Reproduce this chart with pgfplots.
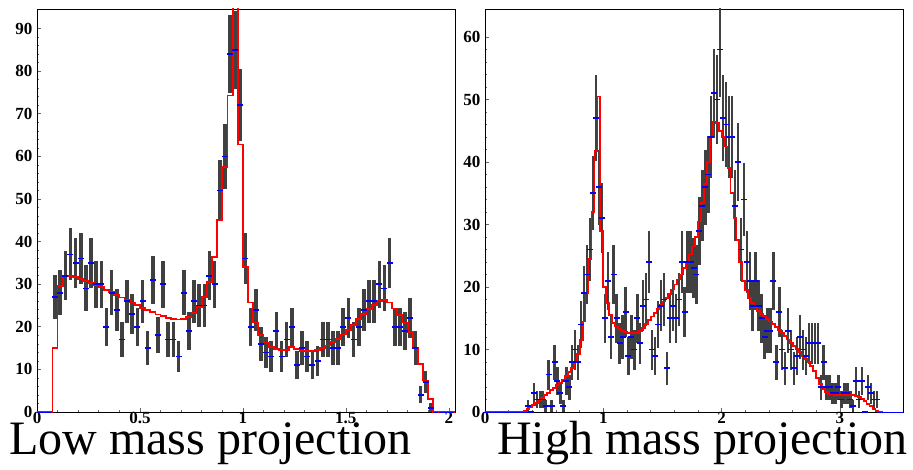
\documentclass[border=0pt]{standalone}
\usepackage{fontspec}
\setmainfont{Liberation Serif}
\usepackage{pgfplots}
\usepackage{pgfplotstable}
\pgfplotsset{compat=1.18}

\pgfplotstableread{
x y e
0.0875 27 5.2
0.1125 28 5.3
0.1375 32 5.7
0.1625 37 6.1
0.1875 35 5.9
0.2125 36 6.0
0.2375 29 5.4
0.2625 35 5.9
0.2875 30 5.5
0.3125 30 5.5
0.3375 20 4.5
0.3625 28 5.3
0.3875 24 4.9
0.4125 17 4.1
0.4375 26 5.1
0.4625 23 4.8
0.4875 20 4.5
0.5125 26 5.1
0.5375 15 3.9
0.5625 31 5.6
0.5875 18 4.2
0.6125 30 5.5
0.6375 17 4.1
0.6625 17 4.1
0.6875 13 3.6
0.7125 28 5.3
0.7375 19 4.4
0.7625 26 5.1
0.7875 25 5.0
0.8125 25 5.0
0.8375 32 5.7
0.8625 30 5.5
0.8875 52 7.2
0.9125 60 7.7
0.9375 84 9.2
0.9625 85 9.2
0.9875 72 8.5
1.0125 36 6.0
1.0375 20 4.5
1.0625 24 4.9
1.0875 16 4.0
1.1125 14 3.7
1.1375 13 3.6
1.1625 19 4.4
1.1875 13 3.6
1.2125 17 4.1
1.2375 20 4.5
1.2625 11 3.3
1.2875 15 3.9
1.3125 13 3.6
1.3375 11 3.3
1.3625 12 3.5
1.3875 17 4.1
1.4125 17 4.1
1.4375 15 3.9
1.4625 15 3.9
1.4875 20 4.5
1.5125 22 4.7
1.5375 17 4.1
1.5625 20 4.5
1.5875 24 4.9
1.6125 26 5.1
1.6375 26 5.1
1.6625 30 5.5
1.6875 29 5.4
1.7125 35 5.9
1.7375 20 4.5
1.7625 20 4.5
1.7875 19 4.4
1.8125 22 4.7
1.8375 15 3.9
1.8625 4 2.0
1.8875 7 2.6
1.9125 1 1.0
}\lowdata

\pgfplotstableread{
x y
0.0125 0
0.0375 0
0.0625 0
1.9375 0
1.9625 0
1.9875 0
2.0125 0
}\lowzero

\pgfplotstableread{
x y
0.0000 0
0.0375 0
0.0625 0
0.0875 15
0.1125 29.5
0.1375 32
0.1625 32
0.1875 31.7
0.2125 31.3
0.2375 30.8
0.2625 30.3
0.2875 29.8
0.3125 29.3
0.3375 28.7
0.3625 28.1
0.3875 27.5
0.4125 26.9
0.4375 26.3
0.4625 25.7
0.4875 25.1
0.5125 24.5
0.5375 23.9
0.5625 23.4
0.5875 22.9
0.6125 22.5
0.6375 22.1
0.6625 21.8
0.6875 21.7
0.7125 21.8
0.7375 22.3
0.7625 23.2
0.7875 24.6
0.8125 27
0.8375 30.5
0.8625 36.3
0.8875 45
0.9125 57.5
0.9375 74.3
0.9625 120
0.9875 62.8
1.0125 34
1.0375 25.7
1.0625 21
1.0875 18
1.1125 16.3
1.1375 15.2
1.1625 14.7
1.1875 14.5
1.2125 14.6
1.2375 15.2
1.2625 14.7
1.2875 14.4
1.3125 14.3
1.3375 14.3
1.3625 14.5
1.3875 15
1.4125 15.6
1.4375 16.4
1.4625 17.2
1.4875 18.2
1.5125 19.3
1.5375 20.5
1.5625 21.8
1.5875 23
1.6125 24.2
1.6375 25.2
1.6625 26
1.6875 26.2
1.7125 25.7
1.7375 24.3
1.7625 22.7
1.7875 21
1.8125 18.8
1.8375 15
1.8625 11.3
1.8875 7.4
1.9125 3.1
1.9375 0
1.9625 0
2.0300 0
}\lowfit

\pgfplotstableread{
x y e
0.3625 1 1.0
0.3875 0 0
0.4125 3 1.7
0.4375 2 1.4
0.4625 2 1.4
0.4875 2 1.4
0.5125 1 1.0
0.5375 6 2.4
0.5625 1 1.0
0.5875 8 2.8
0.6125 5 2.2
0.6375 3 1.7
0.6625 1 1.0
0.6875 5 2.2
0.7125 4 2.0
0.7375 8 2.8
0.7625 10 3.2
0.7875 8 2.8
0.8125 14 3.7
0.8375 19 4.4
0.8625 22 4.7
0.8875 26 5.1
0.9125 35 5.9
0.9375 47 6.9
0.9625 36 6.0
0.9875 31 5.6
1.0125 15 3.9
1.0375 21 4.6
1.0625 12 3.5
1.0875 22 4.7
1.1125 15 3.9
1.1375 11 3.3
1.1625 12 3.5
1.1875 16 4.0
1.2125 9 3.0
1.2375 12 3.5
1.2625 10 3.2
1.2875 15 3.9
1.3125 11 3.3
1.3375 17 4.1
1.3625 18 4.2
1.3875 24 4.9
1.4125 10 3.2
1.4375 9 3.0
1.4625 14 3.7
1.4875 17 4.1
1.5125 18 4.2
1.5375 7 2.6
1.5625 15 3.9
1.5875 17 4.1
1.6125 15 3.9
1.6375 18 4.2
1.6625 24 4.9
1.6875 16 4.0
1.7125 24 4.9
1.7375 24 4.9
1.7625 23 4.8
1.7875 22 4.7
1.8125 29 5.4
1.8375 33 5.7
1.8625 36 6.0
1.8875 38 6.2
1.9125 44 6.6
1.9375 51 7.1
1.9625 50 7.1
1.9875 58 7.6
2.0125 47 6.9
2.0375 46 6.8
2.0625 44 6.6
2.0875 44 6.6
2.1125 33 5.7
2.1375 40 6.3
2.1625 26 5.1
2.1875 34 5.8
2.2125 24 4.9
2.2375 21 4.6
2.2625 17 4.1
2.2875 21 4.6
2.3125 17 4.1
2.3375 15 3.9
2.3625 12 3.5
2.3875 13 3.6
2.4125 13 3.6
2.4375 21 4.6
2.4625 8 2.8
2.4875 16 4.0
2.5125 10 3.2
2.5375 7 2.6
2.5625 13 3.6
2.5875 10 3.2
2.6125 7 2.6
2.6375 9 3.0
2.6625 12 3.5
2.6875 10 3.2
2.7125 9 3.0
2.7375 11 3.3
2.7625 11 3.3
2.7875 11 3.3
2.8125 11 3.3
2.8375 4 2.0
2.8625 8 2.8
2.8875 4 2.0
2.9125 4 2.0
2.9375 3 1.7
2.9625 3 1.7
2.9875 4 2.0
3.0125 2 1.4
3.0375 3 1.7
3.0625 3 1.7
3.0875 2 1.4
3.1125 1 1.0
3.1375 5 2.2
3.1625 2 1.4
3.1875 5 2.2
3.2125 0 0
3.2375 4 2.0
3.2625 3 1.7
3.2875 2 1.4
3.3125 2 1.4
}\highdata

\pgfplotstableread{
x y
0.0125 0
0.0375 0
0.0625 0
0.0875 0
0.1125 0
0.1375 0
0.1625 0
0.1875 0
0.2125 0
0.2375 0
0.2625 0
0.2875 0
0.3125 0
0.3375 0
3.3375 0
3.3625 0
3.3875 0
3.4125 0
3.4375 0
3.4625 0
3.4875 0
3.5125 0
}\highzero

\pgfplotstableread{
x y
0.0000 0
0.3125 0
0.3375 0.2
0.3625 0.5
0.3875 0.8
0.4125 1.1
0.4375 1.5
0.4625 1.9
0.4875 2.3
0.5125 2.7
0.5375 3.1
0.5625 3.5
0.5875 3.9
0.6125 4.3
0.6375 4.7
0.6625 5.2
0.6875 5.8
0.7125 6.4
0.7375 7.1
0.7625 8.0
0.7875 9.3
0.8125 11.5
0.8375 14.5
0.8625 19
0.8875 24.5
0.9125 32
0.9375 41.8
0.9625 50.5
0.9875 29
1.0125 20
1.0375 17.5
1.0625 15.5
1.0875 14.3
1.1125 13.7
1.1375 13.3
1.1625 13.0
1.1875 12.8
1.2125 12.7
1.2375 12.6
1.2625 12.6
1.2875 12.7
1.3125 13.0
1.3375 13.5
1.3625 14.1
1.3875 14.7
1.4125 15.3
1.4375 15.9
1.4625 16.5
1.4875 17.1
1.5125 17.7
1.5375 18.3
1.5625 18.9
1.5875 19.6
1.6125 20.4
1.6375 21.2
1.6625 22.0
1.6875 23.0
1.7125 24.0
1.7375 25.2
1.7625 26.5
1.7875 28.0
1.8125 30.5
1.8375 33.5
1.8625 36.5
1.8875 40
1.9125 44
1.9375 46.5
1.9625 46.3
1.9875 45
2.0125 44
2.0375 42.5
2.0625 39
2.0875 35
2.1125 31
2.1375 27.5
2.1625 24
2.1875 21
2.2125 19.5
2.2375 18.3
2.2625 17.5
2.2875 16.8
2.3125 16.2
2.3375 15.7
2.3625 15.3
2.3875 14.9
2.4125 14.5
2.4375 14.1
2.4625 13.6
2.4875 13.1
2.5125 12.6
2.5375 12.1
2.5625 11.6
2.5875 11.1
2.6125 10.6
2.6375 10.1
2.6625 9.6
2.6875 9.0
2.7125 8.5
2.7375 8.0
2.7625 7.4
2.7875 6.6
2.8125 5.5
2.8375 4.5
2.8625 3.7
2.8875 3.2
2.9125 2.9
2.9375 2.8
2.9625 2.7
2.9875 2.7
3.0125 2.7
3.0375 2.7
3.0625 2.7
3.0875 2.7
3.1125 2.7
3.1375 2.6
3.1625 2.4
3.1875 2.1
3.2125 1.7
3.2375 1.3
3.2625 0.9
3.2875 0.5
3.3125 0.2
3.3375 0
3.3625 0
}\highfit

\pgfplotsset{
  rootstyle/.style={
    width=418pt, height=403pt, scale only axis, anchor=south west,
    ymin=0, tick align=inside, xtick pos=bottom, ytick pos=left,
    major tick length=4pt, minor tick length=2pt,
    every tick/.style={black!60, line width=0.6pt},
    axis line style={black, line width=0.9pt},
    ticklabel style={font=\bfseries\fontsize{17}{17}\selectfont},
    /pgf/number format/assume math mode=true,
    minor x tick num=4, minor y tick num=4,
    yticklabel style={xshift=-1pt},
    xticklabel style={yshift=3pt},
  },
  datapts/.style={only marks, mark=-, mark size=3pt, color=blue,
    mark options={line width=1.7pt, solid},
    /pgfplots/error bars/y dir=both, /pgfplots/error bars/y explicit,
    /pgfplots/error bars/error mark=none,
    /pgfplots/error bars/error bar style={line width=#1, color=black!75}},
  datapts/.default=2.8pt,
  zeropts/.style={only marks, mark=-, mark size=2.5pt, color=blue, mark options={line width=1pt}},
  fitline/.style={const plot mark mid, color=red, line width=1.8pt, mark=none},
}

\begin{document}
\begin{tikzpicture}
\useasboundingbox (0,0) rectangle (913pt,469pt);
\begin{axis}[rootstyle, at={(37pt,57pt)},
  xmin=0, xmax=2.03, ymax=94.6,
  xtick={0,0.5,1,1.5,2}, xticklabels={0,0.5,1,1.5,2},
  ytick={0,10,...,90}]
  \addplot[datapts=3.6pt] table[x=x, y=y, y error=e] {\lowdata};
  \addplot[zeropts] table[x=x, y=y] {\lowzero};
  \addplot[fitline] table[x=x, y=y] {\lowfit};
\end{axis}
\begin{axis}[rootstyle, at={(485pt,57pt)},
  xmin=0, xmax=3.533, ymax=64.5,
  xtick={0,1,2,3}, xticklabels={0,1,2,3},
  ytick={0,10,...,60}]
  \addplot[datapts=2.4pt] table[x=x, y=y, y error=e] {\highdata};
  \addplot[zeropts] table[x=x, y=y] {\highzero};
  \addplot[fitline] table[x=x, y=y] {\highfit};
\end{axis}
\node[anchor=base west, inner sep=0pt, font=\fontsize{48}{48}\selectfont] at (9pt,15pt) {Low mass projection};
\node[anchor=base west, inner sep=0pt, font=\fontsize{48}{48}\selectfont] at (497pt,15pt) {High mass projection};
\end{tikzpicture}
\end{document}
